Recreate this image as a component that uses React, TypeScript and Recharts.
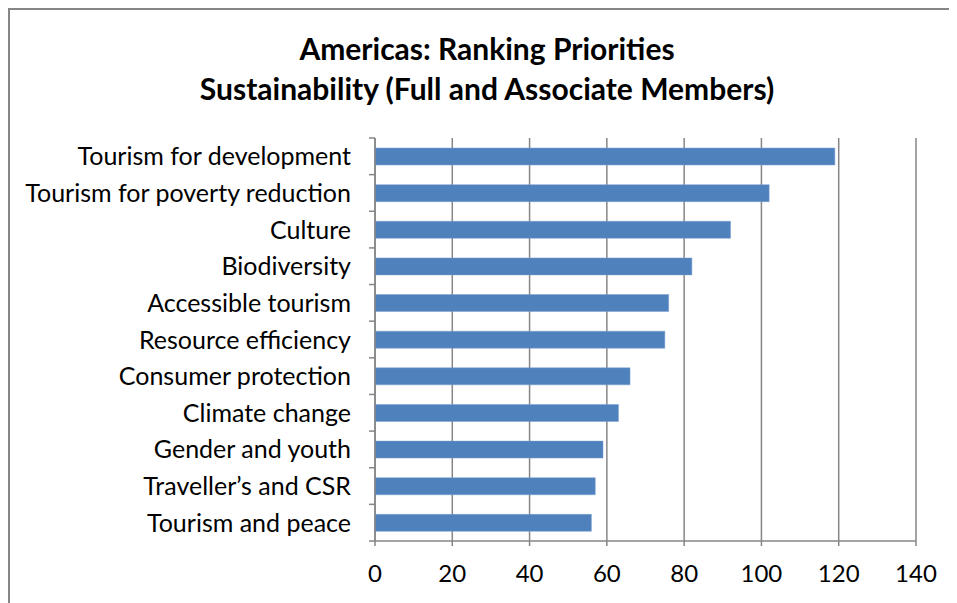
import { Bar, BarChart, CartesianGrid, XAxis, YAxis } from 'recharts';

const categories = [
  'Tourism for development',
  'Tourism for poverty reduction',
  'Culture',
  'Biodiversity',
  'Accessible tourism',
  'Resource efficiency',
  'Consumer protection',
  'Climate change',
  'Gender and youth',
  'Traveller\u2019s and CSR',
  'Tourism and peace',
];

const scores = [119, 102, 92, 82, 76, 75, 66, 63, 59, 57, 56];

const xTicks = [0, 20, 40, 60, 80, 100, 120, 140];

const data = categories.map((name, i) => ({ name, value: scores[i] }));

const CHART_W = 947;
const CHART_H = 593;
const PLOT_LEFT = 365;
const PLOT_TOP = 128;
const PLOT_BOTTOM = 531;
const BAND = (PLOT_BOTTOM - PLOT_TOP) / categories.length;
const GRID = '#868686';

const CategoryTick = (props: any) => {
  const { y, payload, index } = props;
  const last = index === categories.length - 1;
  return (
    <g>
      <text
        x={PLOT_LEFT - 24}
        y={y}
        dy="0.36em"
        textAnchor="end"
        fill="#000"
        fontSize={25}
        fontFamily="Lato, sans-serif"
      >
        {payload.value}
      </text>
      <line x1={PLOT_LEFT - 6} x2={PLOT_LEFT} y1={y - BAND / 2} y2={y - BAND / 2} stroke={GRID} strokeWidth={1.5} />
      {last && (
        <line x1={PLOT_LEFT - 6} x2={PLOT_LEFT} y1={y + BAND / 2} y2={y + BAND / 2} stroke={GRID} strokeWidth={1.5} />
      )}
    </g>
  );
};

const App = () => (
  <div
    style={{
      position: 'relative',
      width: CHART_W,
      height: CHART_H,
      borderLeft: `2px solid ${GRID}`,
      borderTop: `2px solid ${GRID}`,
      background: '#fff',
    }}
  >
    <div
      style={{
        position: 'absolute',
        left: 0,
        top: 18,
        width: 954,
        textAlign: 'center',
        fontFamily: 'Lato, sans-serif',
        fontWeight: 700,
        fontSize: 30,
        lineHeight: '40px',
        color: '#000',
      }}
    >
      <div>Americas: Ranking Priorities</div>
      <div>Sustainability (Full and Associate Members)</div>
    </div>
    <BarChart
      width={CHART_W}
      height={CHART_H}
      data={data}
      layout="vertical"
      margin={{ top: PLOT_TOP, right: 41, bottom: 22, left: 0 }}
    >
      <CartesianGrid horizontal={false} stroke={GRID} strokeWidth={1.5} />
      <XAxis
        type="number"
        domain={[0, 140]}
        ticks={xTicks}
        interval={0}
        height={40}
        tickSize={5}
        tickMargin={19}
        stroke={GRID}
        strokeWidth={1.5}
        tick={{ fill: '#000', fontSize: 24, fontFamily: 'Lato, sans-serif' }}
      />
      <YAxis
        type="category"
        dataKey="name"
        width={PLOT_LEFT}
        tickLine={false}
        stroke={GRID}
        strokeWidth={1.5}
        interval={0}
        tick={<CategoryTick />}
      />
      <Bar dataKey="value" fill="#4F81BD" stroke="#7A9FD0" strokeWidth={0.5} barSize={17} isAnimationActive={false} />
    </BarChart>
  </div>
);

export default App;
